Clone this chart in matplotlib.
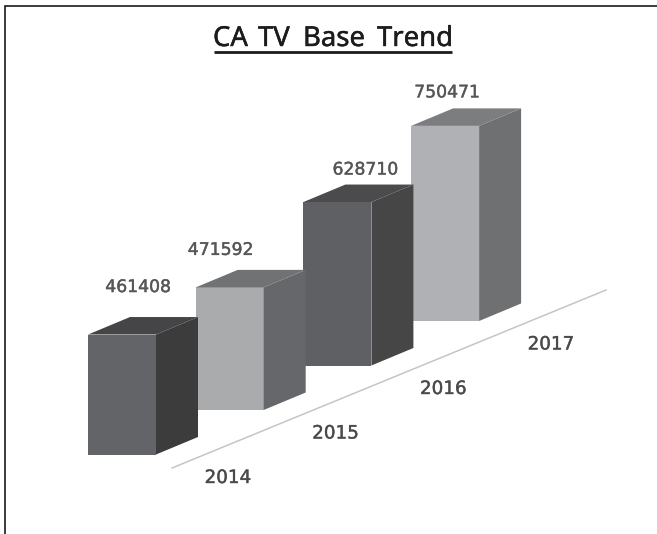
import matplotlib
matplotlib.use("Agg")
import matplotlib.pyplot as plt
from matplotlib.patches import Polygon
import matplotlib.patheffects as pe

years = ["2014", "2015", "2016", "2017"]
values = [461408, 471592, 628710, 750471]
title_words = ["CA", "TV", "Base", "Trend"]

# face colours per bar: front, side, top
front_colors = ["#636467", "#a9abad", "#5f6063", "#b0b1b4"]
side_colors = ["#3c3c3d", "#66676a", "#464647", "#6f7072"]
top_colors = ["#454547", "#717274", "#4b4b4d", "#7c7d7f"]

# layout (pixels)
W, H = 657, 534
X0, Y0, STEP_X, STEP_Y = 88, 454.5, 107.7, -44.5
BAR_W, DEPTH_X, DEPTH_Y = 68, 42, -17.5
PX_PER_UNIT = 0.00026
LABEL_OFFSETS = [(16, -47.5), (-9, -37.5), (28, -32.5), (2, -33.5)]
TITLE_X = [213, 258, 303, 377]

fig = plt.figure(figsize=(W / 100, H / 100), dpi=100)
ax = fig.add_axes([0, 0, 1, 1])
ax.set_xlim(0, W)
ax.set_ylim(H, 0)
ax.axis("off")


def base(i):
    return X0 + STEP_X * i, Y0 + STEP_Y * i


bold = [pe.withStroke(linewidth=0.35, foreground="#6a6b6d")]

# frame
ax.plot([4.5, 4.5, W], [H, 6, 6], color="#1a1a1a", lw=1.2, solid_joinstyle="miter")
# category axis line
ax.plot([172, 606], [468, 290], color="#c4c6c4", lw=1.1, zorder=1)

for i in reversed(range(len(values))):
    x, y = base(i)
    h = values[i] * PX_PER_UNIT
    t = y - h
    r = x + BAR_W
    z = 2 + (len(values) - i)
    ax.add_patch(Polygon([(x, y), (r, y), (r, t), (x, t)], fc=front_colors[i], ec="none", zorder=z))
    ax.add_patch(Polygon([(r, y), (r + DEPTH_X, y + DEPTH_Y), (r + DEPTH_X, t + DEPTH_Y), (r, t)],
                         fc=side_colors[i], ec="none", zorder=z))
    ax.add_patch(Polygon([(x, t), (r, t), (r + DEPTH_X, t + DEPTH_Y), (x + DEPTH_X, t + DEPTH_Y)],
                         fc=top_colors[i], ec="none", zorder=z))
    ox, oy = LABEL_OFFSETS[i]
    ax.text(x + BAR_W / 2 + ox, t + oy, str(values[i]), ha="center", va="center",
            fontsize=12.4, color="#555658", family="DejaVu Sans", zorder=20, path_effects=bold)
    ax.text(x + 140, y + 23.5, years[i], ha="center", va="center",
            fontsize=13.2, color="#48494b", family="DejaVu Sans", zorder=20, path_effects=bold)

title_fx = [pe.withStroke(linewidth=0.3, foreground="#1c1c1c")]
for word, tx in zip(title_words, TITLE_X):
    ax.text(tx, 46, word, ha="left", va="baseline", fontsize=19.8, color="#1c1c1c",
            family="Noto Sans", zorder=20, path_effects=title_fx)
ax.plot([214, 452], [51.5, 51.5], color="#1c1c1c", lw=2.0, solid_capstyle="butt")

fig.savefig("out.png", dpi=100, facecolor="white")
